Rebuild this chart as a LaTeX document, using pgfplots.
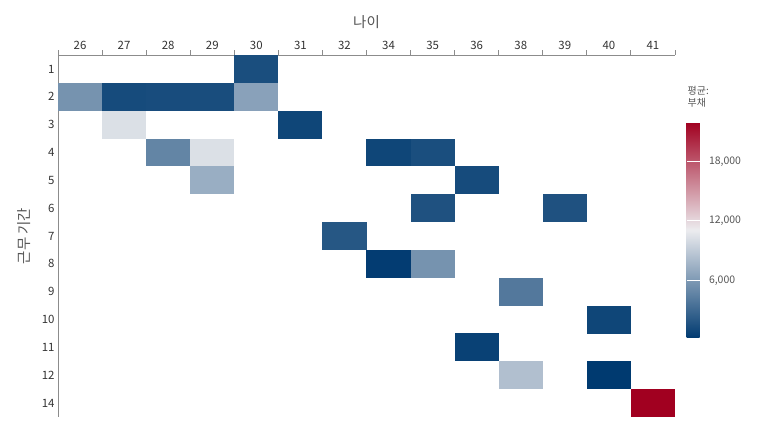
\documentclass[border=0pt]{standalone}
\usepackage{pgfplots}
\pgfplotsset{compat=1.18}
\usepackage{pgfplotstable}
\usepackage{fontspec}
\setmainfont{Noto Sans CJK KR}
\pgfplotsset{/pgf/number format/assume math mode=true}
\definecolor{axgray}{HTML}{8C8C8C}
\definecolor{lblgray}{HTML}{555555}
\definecolor{tickgray}{HTML}{333333}
\pgfdeclareplotmark{cell}{%
  \pgfpathrectanglecorners{\pgfpoint{-22.1bp}{-13.96bp}}{\pgfpoint{22.1bp}{13.96bp}}%
  \pgfusepathqfill}
\pgfplotstableread{
x y v
4 0 1360
0 1 5620
1 1 1200
2 1 1250
3 1 1300
4 1 6500
1 2 10320
5 2 870
2 3 4750
3 3 10320
7 3 870
8 3 1360
3 4 7260
9 4 1200
8 5 1580
11 5 1580
6 6 1910
7 7 300
8 7 5620
10 8 3980
12 9 870
9 10 600
10 11 8350
12 11 160
13 12 22000
}\cells
\begin{document}
\begin{tikzpicture}
\path[use as bounding box] (0,0) rectangle (768bp,432bp);
\begin{axis}[
  at={(58bp,15bp)}, anchor=south west,
  scale only axis, width=617bp, height=362bp,
  xmin=-0.5, xmax=13.5, ymin=-0.5, ymax=12.5,
  y dir=reverse,
  axis x line*=top, axis y line*=left,
  axis line style={axgray, line width=1bp, -},
  xtick={0,...,13},
  xticklabels={26,27,28,29,30,31,32,34,35,36,38,39,40,41},
  ytick={0,...,12},
  yticklabels={1,2,3,4,5,6,7,8,9,10,11,12,14},
  minor xtick={-0.5,0.5,...,13.5},
  major tick length=0pt,
  minor tick length=5bp,
  tick align=outside,
  minor tick style={axgray, line width=1bp},
  ticklabel style={font=\fontsize{11.5}{12}\selectfont, text=tickgray},
  xticklabel style={yshift=1.5bp},
  xlabel={나이}, ylabel={근무 기간},
  label style={font=\fontsize{14.5}{15}\selectfont, text=lblgray},
  xlabel style={at={(axis description cs:0.5,1)}, anchor=base, yshift=28bp},
  ylabel style={at={(axis description cs:0,0.5)}, anchor=base, rotate=0, yshift=28bp},
  colormap={rdbu}{rgb255(0)=(0,58,112); rgb255(1)=(236,236,239); rgb255(2)=(161,0,32)},
  point meta min=160, point meta max=22000,
  colorbar right,
  colorbar style={
    at={(parent axis.south east)}, anchor=south west,
    xshift=3bp, yshift=79bp,
    scale only axis, width=13bp, height=216bp,
    axis line style={draw=none},
    ytick={6000,12000,18000},
    scaled y ticks=false,
    ytick pos=right, tick align=inside, major tick length=13bp,
    ytick style={white, line width=1bp},
    axis on top,
    yticklabel style={font=\fontsize{10.5}{11}\selectfont, text=lblgray, xshift=6bp,
      /pgf/number format/1000 sep={,}, /pgf/number format/assume math mode=true},
    title={평균:\\부채},
    title style={at={(axis description cs:0,1)}, anchor=south west, inner sep=0pt,
      xshift=1bp, yshift=9bp, align=left, font=\fontsize{10}{12}\selectfont, text=lblgray},
  },
]
\addplot[scatter, only marks, mark=cell, scatter src=explicit,
  scatter/use mapped color={fill=mapped color, draw=none}]
  table[x=x, y=y, meta=v] {\cells};
\end{axis}
\end{tikzpicture}
\end{document}
